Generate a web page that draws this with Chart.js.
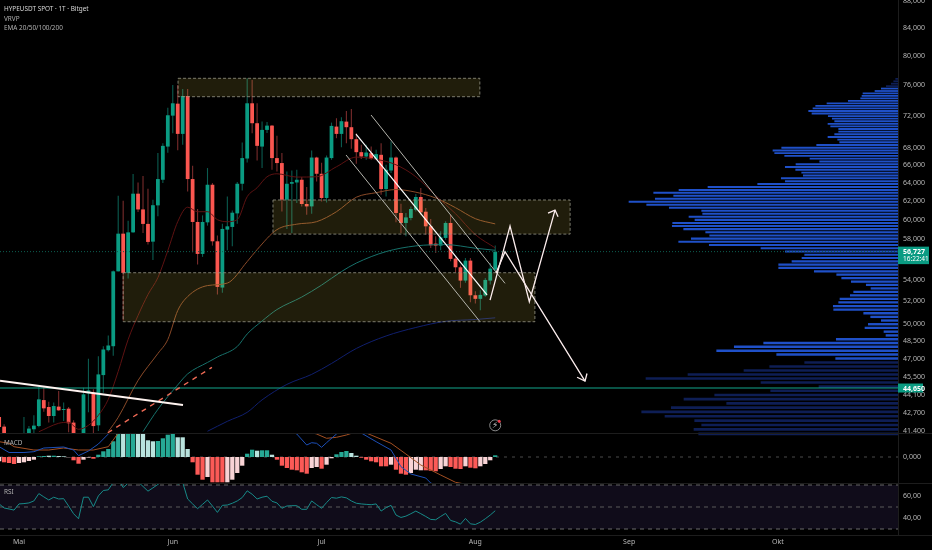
<!DOCTYPE html>
<html>
<head>
<meta charset="utf-8">
<title>HYPEUSDT SPOT</title>
<script src="https://cdn.jsdelivr.net/npm/chart.js@4/dist/chart.umd.min.js"></script>
<style>
  html, body { margin: 0; background: #000; }
  #wrap { width: 932px; height: 550px; }
</style>
</head>
<body>
<div id="wrap"><canvas id="chart" width="932" height="550"></canvas></div>
<script>
// Days are counted from 1 May, the last candle is 5 Aug
const candleDays = [-4,-3,-2,-1,0,1,2,3,4,5,
  6,7,8,9,10,11,12,13,14,15,
  16,17,18,19,20,21,22,23,24,25,
  26,27,28,29,30,31,32,33,34,35,
  36,37,38,39,40,41,42,43,44,45,
  46,47,48,49,50,51,52,53,54,55,
  56,57,58,59,60,61,62,63,64,65,
  66,67,68,69,70,71,72,73,74,75,
  76,77,78,79,80,81,82,83,84,85,
  86,87,88,89,90,91,92,93,94,95,96];

const opens = [42435,41725,40400,40950,40500,40700,41100,41530,41770,43715,
  43185,42510,43215,42960,43060,42020,40700,41100,44230,44285,
  41820,45675,47715,48050,54800,58545,54650,58680,62800,61090,
  59555,57730,61525,64355,68215,72020,73550,69750,74550,64435,
  59760,56500,59720,63795,57765,53260,58960,59240,60665,63905,
  66800,73600,71070,68215,70240,70770,66850,66270,62140,63905,
  64050,64355,61675,61415,66915,65035,62330,66850,70650,69750,
  71270,70575,69105,67550,67035,67435,66730,67235,63315,65410,
  66915,60710,59655,60180,61060,62435,60845,59305,57530,57330,
  58110,59655,56040,55190,53915,55840,52545,52215,52520,53915,54965];
const highs = [42635,41895,41100,41100,41150,42435,41770,42560,44725,44700,
  43595,43520,44410,43520,43185,42190,41150,44670,47000,44545,
  47215,48050,48965,54870,62580,62030,59895,65000,64050,64770,
  63350,62140,67435,68625,73035,76000,76000,75470,75470,65955,
  61135,60455,65690,63985,58345,59585,62500,60985,64095,68695,
  76900,76670,73600,71270,71230,70860,69510,67435,65290,65410,
  65490,64660,63540,67745,67000,66300,67150,71150,71695,71820,
  72620,72870,69835,68420,68420,68215,67825,68625,66070,68815,
  67035,61710,60710,61415,62770,63425,61240,60075,58270,58785,
  59825,60530,56265,55355,56105,56105,52915,53010,54170,55615,57330];
const lows = [41460,40740,40200,40300,40300,40500,40955,41100,41675,42835,
  42020,42020,42900,42140,41315,40955,40500,40955,42785,41170,
  41410,44285,47610,47250,54775,50265,54105,58650,60815,58620,
  57430,55890,60350,63985,67470,69835,67790,68420,63050,56660,
  55450,56205,59375,57330,52610,52770,56860,57260,59585,63160,
  66335,69835,66570,65690,69875,65490,65300,60880,59035,58620,
  61785,61415,60530,60635,64165,61955,61845,66650,69225,68145,
  68625,67945,66185,66730,66650,66650,66650,62690,62500,65115,
  59720,58620,58270,59930,60880,60530,58445,57100,56600,56860,
  57935,55770,54705,53235,53700,51900,51785,51180,52400,53540,54800];
const closes = [41695,41025,40950,40500,41000,41000,41580,41800,43770,43085,
  42510,43260,42935,43030,41970,41100,41000,44155,44465,41765,
  45730,47775,48110,54800,58545,54650,58680,62800,61090,59555,
  57700,61545,64435,68300,72070,73600,69750,74550,64435,59760,
  56500,59760,63795,57765,53325,59035,59305,60740,63905,66850,
  73600,71070,68300,70240,70770,66850,66270,62140,63905,64095,
  64355,61675,61415,66915,65035,62330,66915,70735,69750,71320,
  70575,69105,67550,67035,67505,66765,67315,63315,65490,66915,
  60710,59655,60240,61135,62435,60775,59305,57360,57330,58170,
  59655,56010,55190,53915,55840,52545,52215,52580,53980,55060,56727];

const ema20Days = [4,8,10,12,14,16,18,20,22,24,26,28,30,32,34,36,38,40,42,44,46,48,50,52,56,60,64,68,72,76,80,84,88,92,96];
const ema20 = [41350,41970,42045,41530,41820,42560,43770,45970,48620,50710,52610,54200,56830,59790,61330,60845,60845,60000,59790,60000,62470,63460,64695,65035,64660,64695,65840,66965,66710,66070,64695,62580,60635,58445,57100];
const ema50Days = [18,20,24,28,30,32,34,38,42,46,48,52,56,60,64,68,72,76,80,84,88,92,96];
const ema50 = [41360,42410,45250,47440,48620,51155,52425,53445,53680,55745,56930,58960,59530,59790,60845,62415,62910,63260,62965,62325,61275,60105,59555];
const ema100Days = [25,28,32,34,38,40,44,46,49,52,57,61,65,68,74,80,86,92,96];
const ema100 = [41360,43010,44895,45770,46700,47150,48025,49095,50220,51245,52380,53490,54775,55600,56730,57300,57430,57070,56860];
const ema200Days = [38,42,46,49,54,59,63,68,74,80,86,92,96];
const ema200 = [41385,42115,42785,43730,44935,45730,46615,47860,48920,49655,50195,50355,50505];

// Volume profile rows, top to bottom
const vrvpPrices = [76900,76576,76252,75928,75604,75280,74956,74632,74308,73984,
  73660,73336,73012,72688,72364,72040,71716,71392,71068,70744,
  70420,70096,69772,69448,69124,68800,68476,68152,67828,67504,
  67180,66856,66532,66208,65884,65560,65236,64912,64588,64264,
  63940,63616,63292,62968,62644,62320,61996,61672,61348,61024,
  60700,60376,60052,59728,59404,59080,58756,58432,58108,57784,
  57460,57136,56812,56488,56164,55840,55516,55192,54868,54544,
  54220,53896,53572,53248,52924,52600,52276,51952,51628,51304,
  50980,50656,50332,50008,49684,49360,49036,48712,48388,48064,
  47740,47416,47092,46768,46444,46120,45796,45472,45148,44824,
  44500,44176,43852,43528,43204,42880,42556,42232,41908,41584,41260];
const vrvpVolumes = [2.3,4.3,6.7,11.7,16.7,23,35,36,37.3,49.7,
  71,82.3,85,89.3,86,69.7,65.7,63.3,70,67.3,
  59.3,59.3,63.3,70,60.3,58.3,81.3,116.3,125,123.3,
  113.3,88,78.3,102,112.7,102.3,96.3,94.7,116.7,112.7,
  140.3,190,219,244.3,224.3,242.7,269,251.3,228.7,196.3,
  195.3,209,203,225.3,225.7,214.3,192.3,188.3,206.7,219.3,
  188.7,137,112.7,93.3,96,106,119.3,119.3,83.7,61.3,
  56.3,46.7,31.7,27,44.3,47.7,58,59.3,64.7,64.3,
  34.3,27.3,16.7,29.7,33,14,12,61.7,134.3,163.7,
  181.3,121.3,62.3,93.3,128.3,154,210,252,137,79,
  127.3,183.3,214,171.3,226.7,256.3,233,203.3,196.3,204,199.3];

// MACD, one bar per candle; macdPale marks the lighter bars
const macdHist = [-433,-530,-600,-700,-600,-530,-400,-270,67,100,
  130,130,100,67,-30,-330,-670,-270,-60,-170,
  230,570,800,1570,2300,2300,2300,2300,2300,2300,
  1670,1570,1600,1870,2230,2330,1970,1970,800,-530,
  -1770,-2270,-2000,-2530,-2530,-2530,-2530,-2270,-1600,-870,
  330,730,630,670,670,230,-270,-870,-1100,-1270,
  -1330,-1530,-1670,-1100,-1000,-1170,-770,-130,270,500,
  600,400,130,-70,-270,-430,-530,-930,-930,-770,
  -1270,-1670,-1770,-1600,-1270,-1330,-1330,-1370,-1430,-1200,
  -930,-1000,-1170,-1200,-930,-1070,-1130,-930,-700,-330,170];
const macdPale = [1,0,0,0,1,1,1,1,0,0,
  1,0,1,1,1,0,0,1,1,0,
  0,0,0,0,0,1,0,0,1,1,
  1,1,0,0,0,0,1,1,1,0,
  0,0,1,0,0,0,1,1,1,1,
  0,0,1,0,0,1,0,0,0,0,
  0,0,0,1,1,0,1,1,0,0,
  0,1,1,0,0,0,0,0,0,1,
  0,0,0,1,1,1,0,0,0,1,
  1,0,0,0,1,0,0,1,1,1,0];
const macdDays = [-4,-2,1,3,5,9,11,12,14,16,18,20,24,30,35,50,54,56,58,59,60,61,62,64,66,69,72,75,77,79,82,83,85,96];
const macdLine = [1030,450,450,530,900,1000,700,130,600,1300,2300,3600,4800,5000,4000,3500,3000,2300,1200,1430,1370,970,1430,2300,3000,2400,1530,700,-970,-1700,-2100,-2600,-3000,-3200];
const signalDays = [-4,-2,-1,3,6,9,12,15,18,19,20,24,35,50,60,62,64,66,69,70,75,78,81,85,88,92,96];
const signalLine = [1530,1370,1030,700,700,900,700,700,1030,1700,2400,3500,4300,3800,2300,1870,1970,2200,2700,2400,1370,300,-800,-1800,-2530,-2900,-3000];

const rsiValues = [52.8,49.1,48.2,47.2,52.8,53.1,53.7,55.5,62.2,59.2,
  56.4,58.9,57.3,57.6,50.9,43.9,39.3,58.9,58.9,50.3,
  60.1,65,65.6,72.3,75.4,67.7,71.7,77.2,72.9,68.7,
  64.4,67.4,70.5,73.9,76,77.2,70.8,72.3,57.3,52.8,
  48.5,52.4,56.4,50.9,45.1,51.5,51.8,53.4,55.5,58.6,
  64.7,61.6,57.3,58.9,59.8,55.2,53.7,48.8,50.9,51.2,
  51.2,47.9,47.9,55.5,52.1,48.8,54,58.6,58,59.2,
  58.3,55.5,53.4,52.8,52.4,52.1,52.8,46.3,49.4,51.5,
  42.7,40.5,41.7,43.9,46.3,43.9,41.4,38.7,38.4,41.4,
  44.2,37.8,36.5,34.4,39.6,34.7,34.1,36.2,39.3,42.7,46.6];

// Drawings, [day, price]
const zoneTop = [[32.06,76900],[92.9,76900],[92.9,74455],[32.06,74455],[32.06,76900]];
const zoneMid = [[51.2,62110],[111.1,62110],[111.1,58500],[51.2,58500],[51.2,62110]];
const zoneLow = [[21,54665],[104,54665],[104,50160],[21,50160],[21,54665]];
const breakoutLine = [[-3.83,45220],[33.06,43340]];
const dashedTrend = [[17.9,41280],[38.9,46300]];
const channelUpper = [[70.97,72100],[97.98,53655]];
const channelLower = [[65.93,67215],[92.94,50160]];
const channelMiddle = [[67.94,69735],[94.35,52570]];
const pathUp = [[94.96,52105],[98.99,59330],[102.88,51955],[108.06,61020]];
const pathUpHead = [[106.65,60700],[108.06,61020],[108.67,60310]];
const pathDown = [[96.17,54635],[97.98,56720],[114.11,45195]];
const pathDownHead = [[112.5,45500],[114.11,45195],[114.5,45800]];

const lastPrice = 56727;
const supportPrice = 44650;
const eventPoint = [96, 41820];

const monthDays = [0,31,61,92,123,153];
const monthLabels = ['Mai','Jun','Jul','Aug','Sep','Okt'];
const priceTicks = [88000,84000,80000,76000,72000,68000,66000,64000,62000,60000,58000,54000,52000,50000,48500,47000,45500,44100,42700,41400];

const xMin = -3.83, xMax = 177.2;
const textColor = '#b6b6b6';
const axisFont = { family: '"Noto Sans"', size: 7 };

function zip(days, values) {
    return days.map((d, i) => ({ x: d, y: values[i] }));
}
function pts(list) {
    return list.map(p => ({ x: p[0], y: p[1] }));
}
function lineDs(label, data, color, width, extra) {
    return Object.assign({
        type: 'line', label: label, data: data,
        borderColor: color, borderWidth: width,
        pointRadius: 0, tension: 0, fill: false,
        xAxisID: 'x', yAxisID: 'yPrice'
    }, extra || {});
}
function zoneDs(label, list) {
    return lineDs(label, pts(list), 'rgba(150,150,135,0.8)', 1, {
        borderDash: [3, 2], fill: 'shape', backgroundColor: 'rgba(240,220,80,0.135)'
    });
}
function emaDs(label, days, values, color) {
    return lineDs(label, zip(days, values), color, 1, { cubicInterpolationMode: 'monotone' });
}

const isUp = candleDays.map((d, i) => closes[i] >= opens[i]);

const datasets = [
    lineDs('breakout', pts(breakoutLine), '#fff3f0', 2),
    lineDs('pathDownHead', pts(pathDownHead), '#fdeeee', 1.3),
    lineDs('pathDown', pts(pathDown), '#fdeeee', 1.3),
    lineDs('pathUpHead', pts(pathUpHead), '#fdeeee', 1.3),
    lineDs('pathUp', pts(pathUp), '#fdeeee', 1.3),
    lineDs('channelMiddle', pts(channelMiddle), '#ffffff', 1.2),
    lineDs('channelUpper', pts(channelUpper), '#b5b5ad', 1),
    lineDs('channelLower', pts(channelLower), '#b5b5ad', 1),
    lineDs('dashedTrend', pts(dashedTrend), '#ee6a55', 1.4, { borderDash: [5, 5] }),
    lineDs('support', pts([[xMin, supportPrice], [xMax, supportPrice]]), '#12a58c', 1.1),
    zoneDs('zoneTop', zoneTop),
    zoneDs('zoneMid', zoneMid),
    zoneDs('zoneLow', zoneLow),
    lineDs('last', pts([[xMin, lastPrice], [xMax, lastPrice]]), '#0d5e50', 1, { borderDash: [1, 2] }),
    emaDs('EMA 20', ema20Days, ema20, '#5e1212'),
    emaDs('EMA 50', ema50Days, ema50, '#8a4a28'),
    emaDs('EMA 100', ema100Days, ema100, '#17716b'),
    emaDs('EMA 200', ema200Days, ema200, '#101f6e'),
    {
        type: 'bar', label: 'body', xAxisID: 'x', yAxisID: 'yPrice', grouped: false,
        data: candleDays.map((d, i) => ({ x: d, y: [opens[i], closes[i]] })),
        backgroundColor: isUp.map(u => u ? '#0a9b82' : '#fb5650'),
        categoryPercentage: 1, barPercentage: 0.76, minBarLength: 1, borderWidth: 0
    },
    {
        type: 'bar', label: 'wick', xAxisID: 'x', yAxisID: 'yPrice', grouped: false,
        data: candleDays.map((d, i) => ({ x: d, y: [lows[i], highs[i]] })),
        backgroundColor: isUp.map(u => u ? '#0b5c50' : '#7a2c2c'),
        categoryPercentage: 1, barPercentage: 0.22, borderWidth: 0
    },
    {
        type: 'bar', label: 'VRVP', indexAxis: 'y', xAxisID: 'xVol', yAxisID: 'yVol',
        data: vrvpPrices.map((p, i) => ({ x: vrvpVolumes[i], y: p })),
        backgroundColor: vrvpPrices.map(p => (p > 46900 && p < 75700) ? '#1f50c8' : '#0e1e55'),
        barThickness: 'flex', categoryPercentage: 1, barPercentage: 0.92, borderWidth: 0
    },
    lineDs('MACD', zip(macdDays, macdLine), '#1c4fb8', 1, { yAxisID: 'yMacd' }),
    lineDs('Signal', zip(signalDays, signalLine), '#a34f22', 1, { yAxisID: 'yMacd' }),
    {
        type: 'bar', label: 'Histogram', xAxisID: 'x', yAxisID: 'yMacd', grouped: false,
        data: zip(candleDays, macdHist),
        backgroundColor: macdHist.map((v, i) => {
            if (v >= 0) return macdPale[i] ? '#b9e3de' : '#26a995';
            return macdPale[i] ? '#f8d3d5' : '#fc5a57';
        }),
        categoryPercentage: 1, barPercentage: 0.86, borderWidth: 0
    },
    lineDs('zero', pts([[xMin, 0], [xMax, 0]]), '#4a4a4a', 1, { yAxisID: 'yMacd', borderDash: [3, 5] }),
    lineDs('RSI', zip(candleDays, rsiValues), '#178a88', 1, { yAxisID: 'yRsi' }),
    lineDs('rsi70', pts([[xMin, 70], [xMax, 70]]), '#6a6a6a', 1, { yAxisID: 'yRsi', borderDash: [4, 4] }),
    lineDs('rsi50', pts([[xMin, 50], [xMax, 50]]), '#5a5a5a', 1, { yAxisID: 'yRsi', borderDash: [4, 4] }),
    lineDs('rsi30', pts([[xMin, 30], [xMax, 30]]), '#6a6a6a', 1, { yAxisID: 'yRsi', borderDash: [4, 4] })
];

function rightAxis(extra) {
    return Object.assign({
        position: 'right',
        stack: 'panes',
        offset: false,
        grid: { display: false, drawTicks: false },
        border: { display: true, color: '#1d1d1d' },
        // the 88,000 label sits on the canvas edge, it must not push the pane down
        afterFit(scale) {
            scale.width = 34;
            scale.paddingTop = 0;
            scale.paddingBottom = 0;
        }
    }, extra);
}

// Green price tags, pane names, header, alert icon
const overlay = {
    id: 'overlay',
    beforeDatasetsDraw(chart) {
        const { ctx, scales } = chart;
        ctx.save();
        ctx.fillStyle = '#100c1a';
        const top = scales.yRsi.getPixelForValue(70);
        const bottom = scales.yRsi.getPixelForValue(30);
        ctx.fillRect(0, top, scales.x.right, bottom - top);
        ctx.restore();
    },
    afterDraw(chart) {
        const { ctx, scales } = chart;
        ctx.save();
        ctx.strokeStyle = '#1d1d1d';
        ctx.lineWidth = 1;
        [scales.yPrice.bottom, scales.yMacd.bottom, scales.yRsi.bottom].forEach(y => {
            ctx.beginPath();
            ctx.moveTo(0, y + 0.5);
            ctx.lineTo(chart.width, y + 0.5);
            ctx.stroke();
        });

        const axisX = scales.x.right;
        const lastY = scales.yPrice.getPixelForValue(lastPrice);
        ctx.fillStyle = '#0a9b82';
        ctx.fillRect(axisX, lastY - 5, 31, 17.5);
        const supY = scales.yPrice.getPixelForValue(supportPrice);
        ctx.fillRect(axisX, supY - 4.5, 25, 9);

        ctx.textBaseline = 'middle';
        ctx.fillStyle = '#ffffff';
        ctx.font = 'bold 7px "Noto Sans"';
        ctx.fillText(lastPrice.toLocaleString('en-US'), axisX + 5, lastY);
        ctx.fillText(supportPrice.toLocaleString('en-US'), axisX + 5, supY + 0.5);
        ctx.font = '6.5px "Noto Sans"';
        ctx.fillText('16:22:41', axisX + 5, lastY + 7.7);

        ctx.fillStyle = '#d8d8d8';
        ctx.font = '6.4px "Noto Sans"';
        ctx.fillText('HYPEUSDT SPOT · 1T · Bitget', 4, 9);
        ctx.fillStyle = '#b0b0b0';
        ctx.fillText('VRVP', 4, 19);
        ctx.fillText('EMA 20/50/100/200', 4, 28);
        ctx.fillText('MACD', 4, 443);
        ctx.fillText('RSI', 4, 492);

        const ex = scales.x.getPixelForValue(eventPoint[0]);
        const ey = scales.yPrice.getPixelForValue(eventPoint[1]);
        ctx.strokeStyle = '#8a8a8a';
        ctx.beginPath();
        ctx.arc(ex, ey, 5.5, 0, Math.PI * 2);
        ctx.stroke();
        ctx.fillStyle = '#c4c4c4';
        ctx.textAlign = 'center';
        ctx.font = '9px "DejaVu Sans"';
        ctx.fillText('\u26A1', ex, ey + 0.5);
        ctx.fillStyle = '#f23645';
        ctx.beginPath();
        ctx.arc(ex + 4, ey - 4, 1.5, 0, Math.PI * 2);
        ctx.fill();
        ctx.restore();
    }
};

const tickBase = { color: textColor, font: axisFont, padding: 5, autoSkip: false, crossAlign: 'near', maxRotation: 0 };

new Chart(document.getElementById('chart').getContext('2d'), {
    type: 'bar',
    data: { datasets: datasets },
    plugins: [overlay],
    options: {
        responsive: false,
        animation: false,
        events: [],
        layout: { padding: 0 },
        plugins: { legend: { display: false }, tooltip: { enabled: false }, title: { display: false } },
        scales: {
            x: {
                type: 'linear', position: 'bottom', min: xMin, max: xMax, offset: false,
                grid: { display: false, drawTicks: false },
                border: { display: false },
                afterFit(scale) {
                    scale.height = 15;
                    scale.paddingLeft = 0;
                    scale.paddingRight = 0;
                },
                afterBuildTicks(scale) { scale.ticks = monthDays.map(v => ({ value: v })); },
                ticks: {
                    color: textColor, font: axisFont, autoSkip: false, maxRotation: 0, padding: 3,
                    callback: v => monthLabels[monthDays.indexOf(v)]
                }
            },
            xVol: {
                type: 'linear', axis: 'x', display: false, reverse: true, min: 0, max: 898,
                offset: false, grid: { display: false }
            },
            yVol: {
                type: 'logarithmic', axis: 'y', display: false, position: 'right',
                min: 34480, max: 88230, offset: false, grid: { display: false }
            },
            yPrice: rightAxis({
                type: 'logarithmic', axis: 'y', weight: 1, stackWeight: 433, min: 41260, max: 88230,
                afterBuildTicks(scale) { scale.ticks = priceTicks.map(v => ({ value: v })); },
                ticks: Object.assign({ callback: v => v.toLocaleString('en-US') }, tickBase)
            }),
            yMacd: rightAxis({
                type: 'linear', axis: 'y', weight: 2, stackWeight: 50, min: -2600, max: 2400,
                afterBuildTicks(scale) { scale.ticks = [{ value: 0 }]; },
                ticks: Object.assign({ callback: () => '0,000' }, tickBase)
            }),
            yRsi: rightAxis({
                type: 'linear', axis: 'y', weight: 3, stackWeight: 52, min: 24.55, max: 71.82,
                afterBuildTicks(scale) { scale.ticks = [{ value: 60 }, { value: 40 }]; },
                ticks: Object.assign({ callback: v => v + ',00' }, tickBase)
            })
        }
    }
});
</script>
</body>
</html>
